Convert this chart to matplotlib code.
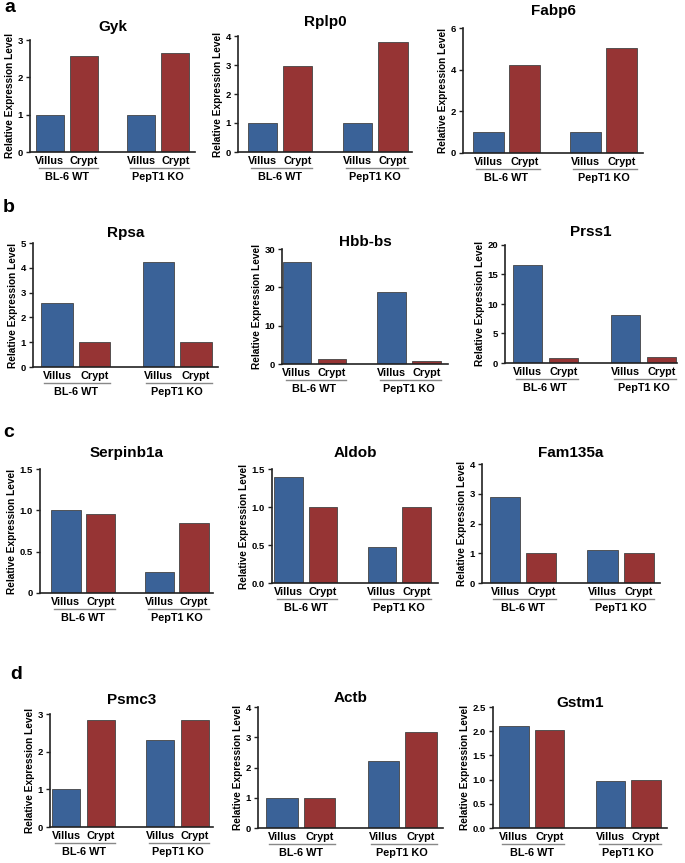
import matplotlib.pyplot as plt
from matplotlib.transforms import blended_transform_factory

plt.rcParams['font.family'] = ['Liberation Sans', 'DejaVu Sans']

# values ordered as: BL-6 WT villus, BL-6 WT crypt, PepT1 KO villus, PepT1 KO crypt
groups = ["BL-6 WT", "PepT1 KO"]
samples = ["Villus", "Crypt"]

genes = ["Gyk", "Rplp0", "Fabp6",
         "Rpsa", "Hbb-bs", "Prss1",
         "Serpinb1a", "Aldob", "Fam135a",
         "Psmc3", "Actb", "Gstm1"]

gyk = [1.0, 2.57, 1.0, 2.65]
rplp0 = [1.0, 2.95, 1.0, 3.8]
fabp6 = [1.0, 4.2, 1.0, 5.05]
rpsa = [2.58, 1.0, 4.23, 1.0]
hbb_bs = [26.5, 1.2, 18.8, 0.9]
prss1 = [16.6, 0.9, 8.1, 1.0]
serpinb1a = [1.0, 0.96, 0.25, 0.85]
aldob = [1.4, 1.0, 0.48, 1.0]
fam135a = [2.88, 1.02, 1.12, 1.0]
psmc3 = [1.0, 2.83, 2.32, 2.85]
actb = [1.0, 0.98, 2.22, 3.16]
gstm1 = [2.1, 2.03, 0.97, 1.0]
values = [gyk, rplp0, fabp6, rpsa, hbb_bs, prss1,
          serpinb1a, aldob, fam135a, psmc3, actb, gstm1]

yticks = [[0, 1, 2, 3], [0, 1, 2, 3, 4], [0, 2, 4, 6],
          [0, 1, 2, 3, 4, 5], [0, 10, 20, 30], [0, 5, 10, 15, 20],
          [0, 0.5, 1.0, 1.5], [0, 0.5, 1.0, 1.5], [0, 1, 2, 3, 4],
          [0, 1, 2, 3], [0, 1, 2, 3, 4], [0, 0.5, 1.0, 1.5, 2.0, 2.5]]
ytick_labels = [["0", "1", "2", "3"], ["0", "1", "2", "3", "4"], ["0", "2", "4", "6"],
                ["0", "1", "2", "3", "4", "5"], ["0", "10", "20", "30"],
                ["0", "5", "10", "15", "20"],
                ["0", "0.5", "1.0", "1.5"], ["0.0", "0.5", "1.0", "1.5"],
                ["0", "1", "2", "3", "4"],
                ["0", "1", "2", "3"], ["0", "1", "2", "3", "4"],
                ["0.0", "0.5", "1.0", "1.5", "2.0", "2.5"]]

# layout in pixels: axis left, right, top, bottom, first/last bar fraction, title y
layout = [
    (30, 195, 40, 152, 0.12, 0.88, 27),
    (238, 412, 36, 152, 0.14, 0.89, 22),
    (463, 643, 28, 153, 0.14, 0.88, 11),
    (33, 218, 243, 367, 0.13, 0.88, 233),
    (282, 448, 249, 364, 0.09, 0.87, 242),
    (505, 677, 245, 363, 0.13, 0.91, 232),
    (40, 213, 469, 593, 0.15, 0.89, 453),
    (272, 438, 469, 583, 0.10, 0.87, 453),
    (482, 660, 464, 583, 0.13, 0.88, 453),
    (50, 213, 714, 827, 0.10, 0.89, 700),
    (258, 443, 707, 828, 0.13, 0.88, 698),
    (493, 667, 707, 828, 0.12, 0.88, 703),
]
letters = [("a", 4, 8), ("b", 3, 208), ("c", 3, 432), ("d", 10, 674)]

W, H = 685, 863
blue, red = "#3a6298", "#963434"
xpos = [0, 1, 2.7, 3.7]

fig = plt.figure(figsize=(W / 100, H / 100), dpi=100)

for i, gene in enumerate(genes):
    L, R, T, B, f0, f3, ty = layout[i]
    ax = fig.add_axes([L / W, 1 - B / H, (R - L) / W, (B - T) / H])
    span = (xpos[3] - xpos[0]) / (f3 - f0)
    left = xpos[0] - f0 * span
    ax.bar(xpos, values[i], width=0.17 * span, color=[blue, red, blue, red],
           edgecolor="#444444", linewidth=0.6)
    ax.set_xlim(left, left + span)
    ax.set_ylim(0, yticks[i][-1])
    ax.set_yticks(yticks[i], ytick_labels[i])
    ax.set_xticks(xpos, samples * 2)
    ax.tick_params(axis="x", length=0, pad=3, labelsize=7.8)
    ax.tick_params(axis="y", length=3, width=1, pad=2, labelsize=6.8, color="#222222")
    for lab in ax.get_xticklabels() + ax.get_yticklabels():
        lab.set_fontweight("bold")
    for s in ["top", "right"]:
        ax.spines[s].set_visible(False)
    for s in ["left", "bottom"]:
        ax.spines[s].set_linewidth(1.2)
        ax.spines[s].set_color("#222222")
    ax.set_ylabel("Relative Expression Level", fontsize=7.3, fontweight="bold", labelpad=2)

    # group underline + label
    trans = blended_transform_factory(ax.transData, ax.transAxes)
    hpx = B - T
    hw = 0.17 * span / 2
    for g, (a, b) in enumerate([(xpos[0], xpos[1]), (xpos[2], xpos[3])]):
        ax.plot([a - hw * 0.8, b + hw], [-16 / hpx, -16 / hpx], transform=trans,
                color="#888888", lw=1, clip_on=False)
        ax.text((a + b) / 2, -25 / hpx, groups[g], transform=trans, ha="center",
                va="center", fontsize=7.8, fontweight="bold")

    fig.text((L + R) / 2 / W, 1 - ty / H, gene, ha="center", va="center",
             fontsize=11, fontweight="bold")

for letter, x, y in letters:
    fig.text(x / W, 1 - y / H, letter, ha="left", va="center", fontsize=14,
             fontweight="bold")

fig.savefig("out.png", dpi=100, facecolor="white")
